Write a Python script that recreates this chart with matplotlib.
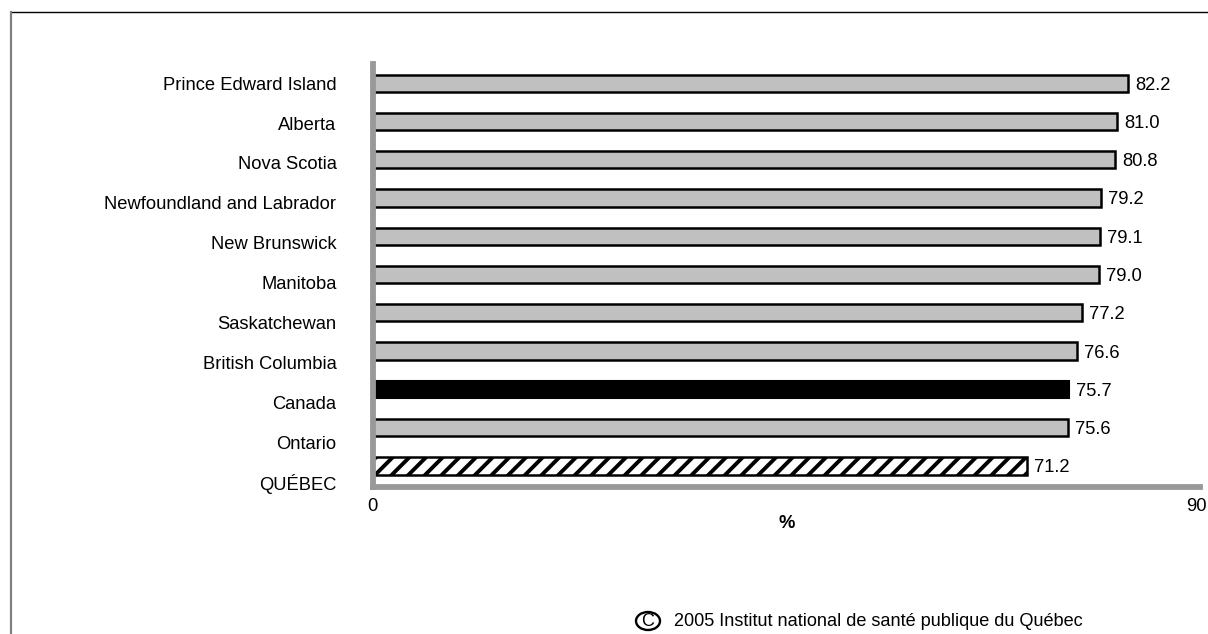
import numpy as np
import matplotlib
matplotlib.use("Agg")
import matplotlib.pyplot as plt
from matplotlib.lines import Line2D
from matplotlib.patches import Ellipse
from matplotlib.transforms import IdentityTransform, ScaledTranslation

plt.rcParams['font.family'] = ['Liberation Sans', 'DejaVu Sans']
plt.rcParams['hatch.linewidth'] = 2.8

provinces = ["Prince Edward Island", "Alberta", "Nova Scotia",
             "Newfoundland and Labrador", "New Brunswick", "Manitoba",
             "Saskatchewan", "British Columbia", "Canada", "Ontario", "QUÉBEC"]
values = [82.2, 81.0, 80.8, 79.2, 79.1, 79.0, 77.2, 76.6, 75.7, 75.6, 71.2]
value_labels = ["82.2", "81.0", "80.8", "79.2", "79.1", "79.0",
                "77.2", "76.6", "75.7", "75.6", "71.2"]
x_ticks = [0, 90]
x_label = "%"
credit = "2005 Institut national de santé publique du Québec"

FS = 13.2
W, H = 1208, 634
fig = plt.figure(figsize=(W / 100, H / 100), dpi=100)
ax = fig.add_axes([372.5 / W, 1 - 487 / H, (1200 - 372.5) / W, (487 - 64) / H])

pos = np.arange(len(provinces))
for i, (name, v) in enumerate(zip(provinces, values)):
    if name == "Canada":
        ax.barh(i, v, height=0.45, color="black", edgecolor="black", linewidth=1.5)
    elif name == "QUÉBEC":
        ax.barh(i, v, height=0.45, color="white", edgecolor="black",
                linewidth=1.8, hatch="//")
    else:
        ax.barh(i, v, height=0.45, color="#c0c0c0", edgecolor="black", linewidth=1.8)
    ax.annotate(value_labels[i], (v, i), xytext=(7, -2), textcoords="offset pixels",
                va="center", ha="left", fontsize=FS)

ax.set_xlim(0, 90)
ax.set_ylim(10.55, -0.5)
ax.set_xticks(x_ticks)
ax.set_xticklabels([str(t) for t in x_ticks], fontsize=FS)

# category labels sit on a slightly wider pitch than the bars
label_step = 1.0417
ax.set_yticks(pos * label_step)
ax.set_yticklabels(provinces, fontsize=FS)
ax.tick_params(axis="both", length=0)
ax.tick_params(axis="y", pad=26)
ax.tick_params(axis="x", pad=8)

for s in ("top", "right"):
    ax.spines[s].set_visible(False)
for s in ("left", "bottom"):
    ax.spines[s].set_color("#999999")
    ax.spines[s].set_linewidth(4.2)

ax.set_xlabel(x_label, fontsize=FS, fontweight="bold", labelpad=0)

# outer frame
fig.add_artist(Line2D([11 / W, 1], [1 - 12 / H, 1 - 12 / H], color="black",
                      linewidth=1.0, transform=fig.transFigure))
fig.add_artist(Line2D([11 / W, 11 / W], [0, 1 - 12 / H], color="#808080",
                      linewidth=1.6, transform=fig.transFigure))

# credit line with a circled C
fig.add_artist(Ellipse((648, H - 621), 24, 18, fill=False, edgecolor="black",
                       linewidth=1.7, transform=IdentityTransform()))
fig.text(648 / W, 1 - 621.5 / H, "C", fontsize=13, va="center", ha="center")
fig.text(674 / W, 1 - 621 / H, credit, fontsize=13.1, va="center", ha="left")

# nudge the right-hand tick label inside the figure edge
fig.canvas.draw()
lab = ax.xaxis.get_major_ticks()[-1].label1
lab.set_transform(lab.get_transform() + ScaledTranslation(-0.04, 0, fig.dpi_scale_trans))

fig.savefig("out.png", dpi=100, facecolor="white")
